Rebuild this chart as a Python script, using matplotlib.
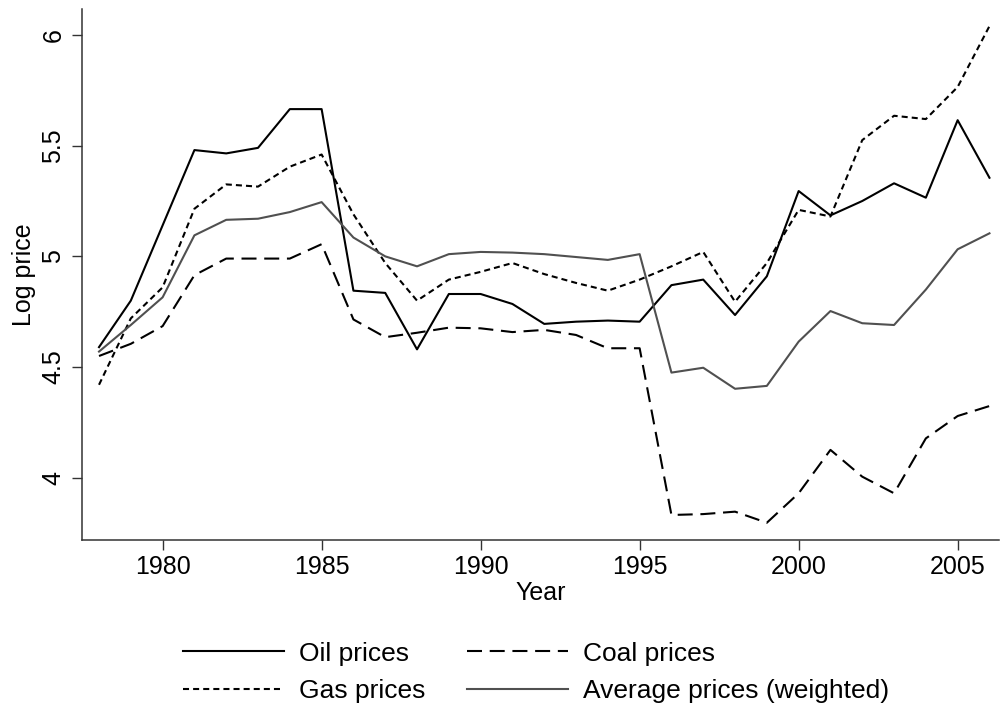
import matplotlib
matplotlib.use('Agg')
import matplotlib.pyplot as plt

plt.rcParams['font.family'] = ['Liberation Sans', 'DejaVu Sans']

years = list(range(1978, 2007))
oil = [4.59, 4.80, 5.14, 5.48, 5.465, 5.49, 5.665, 5.665, 4.845, 4.835,
       4.58, 4.83, 4.83, 4.785, 4.695, 4.705, 4.71, 4.705, 4.87, 4.895,
       4.735, 4.91, 5.295, 5.185, 5.25, 5.33, 5.265, 5.615, 5.355]
gas = [4.42, 4.72, 4.86, 5.215, 5.325, 5.315, 5.405, 5.46, 5.19, 4.97,
       4.80, 4.895, 4.93, 4.97, 4.92, 4.88, 4.845, 4.895, 4.955, 5.02,
       4.795, 4.97, 5.21, 5.18, 5.525, 5.635, 5.62, 5.765, 6.04]
coal = [4.55, 4.605, 4.685, 4.915, 4.99, 4.99, 4.99, 5.055, 4.715, 4.635,
        4.655, 4.678, 4.675, 4.658, 4.668, 4.645, 4.585, 4.585, 3.832, 3.836,
        3.847, 3.797, 3.93, 4.126, 4.005, 3.93, 4.178, 4.279, 4.324]
avg = [4.57, 4.69, 4.815, 5.095, 5.165, 5.17, 5.2, 5.245, 5.085, 5.0,
       4.955, 5.01, 5.02, 5.017, 5.01, 4.997, 4.984, 5.01, 4.475, 4.497,
       4.402, 4.415, 4.615, 4.753, 4.698, 4.69, 4.85, 5.032, 5.104]

x_ticks = [1980, 1985, 1990, 1995, 2000, 2005]
y_ticks = [4, 4.5, 5, 5.5, 6]
y_ticklabels = ['4', '4.5', '5', '5.5', '6']

fig = plt.figure(figsize=(10, 7.11), dpi=100)
ax = fig.add_axes([0.082, 0.2405, 0.917, 0.7468])

lw = 1.5
l_oil, = ax.plot(years, oil, color='black', lw=lw, label='Oil prices')
l_coal, = ax.plot(years, coal, color='black', lw=lw, dashes=(7.2, 3.7), label='Coal prices')
l_gas, = ax.plot(years, gas, color='black', lw=lw, dashes=(2.9, 1.95), label='Gas prices')
l_avg, = ax.plot(years, avg, color='#505050', lw=lw, label='Average prices (weighted)')

ax.set_xlim(1977.465, 2006.3)
ax.set_ylim(3.719, 6.117)
ax.set_xticks(x_ticks)
ax.set_yticks(y_ticks)
ax.set_yticklabels(y_ticklabels, rotation=90, va='center')

for s in ['top', 'right']:
    ax.spines[s].set_visible(False)
for s in ['left', 'bottom']:
    ax.spines[s].set_color('#333333')
    ax.spines[s].set_linewidth(1.1)

ax.tick_params(axis='both', direction='out', length=7, width=1.0, color='#333333',
               labelsize=18)
ax.tick_params(axis='y', pad=5)
ax.tick_params(axis='x', pad=4)

ax.set_xlabel('Year', fontsize=18, labelpad=1)
ax.set_ylabel('Log price', fontsize=18, labelpad=4)

fig.legend(handles=[l_oil, l_gas, l_coal, l_avg], ncol=2, loc='center',
           bbox_to_anchor=(0.536, 0.0545), frameon=False, fontsize=19,
           handlelength=3.8, handletextpad=0.57, columnspacing=1.6,
           labelspacing=0.5, borderpad=0)

fig.savefig('out.png', dpi=100)
plt.close(fig)
